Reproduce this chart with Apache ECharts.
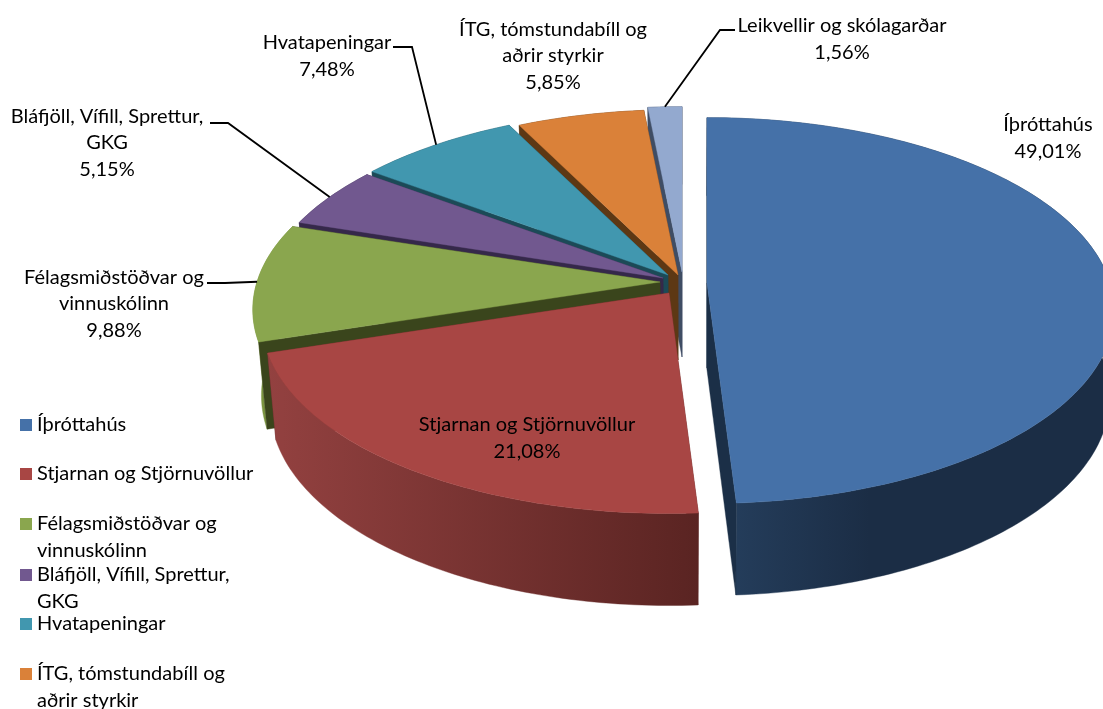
<!DOCTYPE html>
<html><head><meta charset="utf-8">
<style>html,body{margin:0;padding:0;background:#fff}#c{width:1103px;height:709px}</style>
<script src="https://cdn.jsdelivr.net/npm/echarts@6/dist/echarts.min.js"></script>
</head><body><div id="c"></div>
<script>
const names = ['Íþróttahús','Stjarnan og Stjörnuvöllur','Félagsmiðstöðvar og\nvinnuskólinn','Bláfjöll, Vífill, Sprettur,\nGKG','Hvatapeningar','ÍTG, tómstundabíll og\naðrir styrkir','Leikvellir og skólagarðar'];
const values = [49.01,21.08,9.88,5.15,7.48,5.85,1.56];
const topColors = ['#4571A8','#A84644','#8AA64E','#71588F','#4197AF','#DA8139','#93A9CF'];
const cutColors = ['#1B2F47','#5C2624','#3A451C','#35284A','#1C4A57','#5D3814','#3F4D64'];
const wallLeft  = ['#26405F','#934140','#7A9440','#35284A','#1C4A57','#5D3814','#3F4D64'];
const wallRight = ['#1B2D45','#5A2422','#7A9440','#35284A','#1C4A57','#5D3814','#3F4D64'];
const wallStop  = [0.4,1,1,1,1,1,1];
// layout: exploded apex of each slice, horizontal radius, draw order, labels
const apexX = [707,669,660,663,668,678,682];
const apexY = [283,293,282,278,275,275,272];
const radiusX = [403,403,403,399,399,399,399];
const shrink = [0.99,0.98,0.98,0.98,0.98,0.98,0.98];
const drawRank = [6,5,4,3,2,1,0];
const labelX = [1048,527,114,107,327,553,842];
const labelY = [138,438,304,143,56,56,39];
const elbowA = [null,null,[207,283],[210,123],[393,47],null,[735,30]];
const elbowB = [null,null,[225,283],[228,123],[412,47],null,[720,30]];
const legendCenters = [425,474,524,575,624,674];
const radiusY = 189, persp = 0.143, depthBase = 85, depthVar = 7, vanishX = 683;
const FONT = 'Lato, Carlito, sans-serif', FS = 20, LH = 26.5;

const total = values.reduce((a,b)=>a+b,0);
function startAngle(i){let s=0;for(let k=0;k<i;k++)s+=values[k];return s/total*Math.PI*2;}
function topPt(i,t){const u=Math.sin(t),v=Math.cos(t),w=1+persp*v;
  return [apexX[i]+radiusX[i]*u/w, apexY[i]-radiusY*v/w];}
function lower(i,p,v){return [vanishX+(p[0]-vanishX)*shrink[i], p[1]+depthBase-depthVar*v];}

function renderSlice(i){
  return function(params,api){
    const val=api.value(0);
    const a=startAngle(i), b=a+val/total*Math.PI*2;
    const ap=[apexX[i],apexY[i]];
    const apLow=lower(i,ap,0);
    const pa=topPt(i,a), pb=topPt(i,b);
    const kids=[];
    const poly=(pts,fill,z)=>kids.push({type:'polygon',shape:{points:pts},z2:z,style:{fill:fill,stroke:fill,lineWidth:0.4},silent:true});
    const n=Math.max(2,Math.ceil((b-a)/(Math.PI/180)));
    const upper=[],low=[];
    for(let k=0;k<=n;k++){const t=a+(b-a)*k/n;const p=topPt(i,t);upper.push(p);low.push(lower(i,p,Math.cos(t)));}
    const g=new echarts.graphic.LinearGradient(0,0,1,0,[{offset:0,color:wallLeft[i]},{offset:wallStop[i],color:wallRight[i]}]);
    poly(upper.concat(low.slice().reverse()),g,1);
    // a cut face is seen only when it turns towards the viewer
    poly([ap,pa,lower(i,pa,Math.cos(a)),apLow],cutColors[i],a>Math.PI?2:0);
    poly([ap,pb,lower(i,pb,Math.cos(b)),apLow],cutColors[i],b<Math.PI?2:0);
    poly([ap].concat(upper),topColors[i],4);
    const pct=val.toFixed(2).replace('.',',')+'%';
    kids.push({type:'text',z2:10,silent:true,style:{text:names[i]+'\n'+pct,x:labelX[i],y:labelY[i],fill:'#000',
      fontFamily:FONT,fontSize:FS,lineHeight:LH,align:'center',verticalAlign:'middle'}});
    if(elbowA[i]){
      const m=topPt(i,(a+b)/2);
      kids.push({type:'polyline',z2:9,silent:true,shape:{points:[elbowA[i],elbowB[i],m]},style:{stroke:'#000',lineWidth:1.8,fill:null}});
    }
    return {type:'group',children:kids};
  };
}

const series=names.map((n,i)=>({type:'custom',name:n,coordinateSystem:'none',z:2+drawRank[i],clip:false,
  itemStyle:{color:topColors[i]},renderItem:renderSlice(i),data:[[values[i]]],animation:false,silent:true}));
const legends=legendCenters.map((c,i)=>{const multi=names[i].includes('\n');return {
  data:[names[i]],left:20,top:c-(multi?LH*1.5:LH/2),orient:'vertical',padding:0,itemWidth:12,itemHeight:12,itemGap:0,
  icon:'rect',selectedMode:false,
  formatter:nm=>multi?'\n'+nm:nm,
  textStyle:{fontFamily:FONT,fontSize:FS,lineHeight:LH,color:'#000'}
};});
const chart=echarts.init(document.getElementById('c'),null,{renderer:'canvas'});
chart.setOption({animation:false,backgroundColor:'#fff',legend:legends,series:series});
</script></body></html>
